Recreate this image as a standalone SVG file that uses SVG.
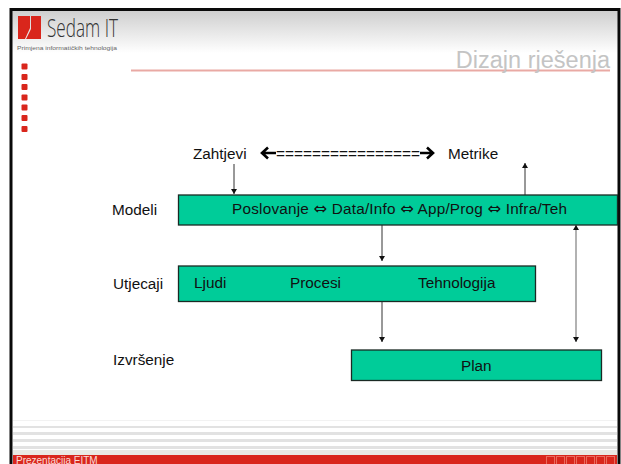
<svg xmlns="http://www.w3.org/2000/svg" width="621" height="464" viewBox="0 0 621 464">
<style>
.t{font-family:"Liberation Sans",Arial,sans-serif;font-size:15.300px;fill:#111}
.d{font-family:"DejaVu Sans",sans-serif;font-size:16px}
.box{fill:#00cc99;stroke:#1a2a24;stroke-width:1.3}
.c{fill:none;stroke:#333;stroke-width:1}
.b{fill:none;stroke:#000;stroke-width:2.600}
.sq{fill:#d9261c}
</style>
<defs>
<linearGradient id="hd" x1="0" y1="0" x2="0" y2="1"><stop offset="0" stop-color="#cfcfcf"/><stop offset="1" stop-color="#ffffff"/></linearGradient>
<marker id="a" markerWidth="6" markerHeight="6" refX="5" refY="3" orient="auto-start-reverse" markerUnits="userSpaceOnUse"><path d="M0 0L5 3L0 6z" fill="#111"/></marker>
</defs>
<rect width="621" height="464" fill="#fff"/>
<g id="frame">
<rect x="12" y="11" width="606" height="453" fill="#fff"/>
<rect x="12" y="11" width="606" height="42" fill="url(#hd)"/>
<path d="M11 464V9.500H619V464" fill="none" stroke="#0a0a0a" stroke-width="3"/>
<g fill="#e2e2e2"><rect x="13" y="420" width="604" height="1" fill="#f2f2f2"/><rect x="13" y="426" width="604" height="2"/><rect x="13" y="432" width="604" height="3"/><rect x="13" y="439" width="604" height="3"/><rect x="13" y="446" width="604" height="3"/><rect x="13" y="450" width="604" height="5" fill="#e9e9e4"/></g>
<rect x="13" y="455" width="604" height="9" fill="#d9261c"/>
<g fill="none" stroke="#ea6a5e" stroke-width="1"><rect x="546.500" y="456.500" width="8" height="8"/><rect x="556.500" y="456.500" width="8" height="8"/><rect x="566.500" y="456.500" width="8" height="8"/><rect x="576.500" y="456.500" width="8" height="8"/><rect x="586.500" y="456.500" width="8" height="8"/><rect x="596.500" y="456.500" width="8" height="8"/><rect x="606.500" y="456.500" width="8" height="8"/></g>
<text x="16" y="463.500" style="font-family:'Liberation Sans',sans-serif;font-size:10px;fill:#fbdcd8">Prezentacija EITM</text>
</g>
<g id="logo">
<path d="M18 16H30V28L25 39H18z" fill="#d9261c"/>
<path d="M31 16H41V39H26L31 29z" fill="#d9261c"/>
<text x="47" y="37" style="font-family:'Open Sans',sans-serif;font-weight:300;font-size:26px;fill:#333" textLength="71" lengthAdjust="spacingAndGlyphs">Sedam IT</text>
<text x="17" y="50" style="font-family:'Liberation Sans',sans-serif;font-size:5.500px;fill:#666" textLength="100" lengthAdjust="spacingAndGlyphs">Primjena informatičkih tehnologija</text>
</g>
<g id="bullets">
<rect class="sq" x="21.500" y="63.500" width="6" height="6" rx="1"/><rect class="sq" x="21.500" y="74" width="6" height="6" rx="1"/><rect class="sq" x="21.500" y="84" width="6" height="6" rx="1"/><rect class="sq" x="21.500" y="94.500" width="6" height="6" rx="1"/><rect class="sq" x="21.500" y="104.500" width="6" height="6" rx="1"/><rect class="sq" x="21.500" y="115" width="6" height="6" rx="1"/><rect class="sq" x="21.500" y="126" width="6" height="6" rx="1"/>
</g>
<g id="title">
<rect x="131" y="69.500" width="479" height="2" fill="#e9a9a4"/>
<text x="610" y="68" text-anchor="end" style="font-family:'Liberation Sans',sans-serif;font-size:23.500px;fill:#c4c4c4">Dizajn rješenja</text>
</g>
<g id="connectors">
<path class="c" d="M234 164V194" marker-end="url(#a)"/>
<path class="c" d="M525 195V163" marker-end="url(#a)"/>
<path class="c" d="M382 225V261" marker-end="url(#a)"/>
<path class="c" d="M382 301V342" marker-end="url(#a)"/>
<path d="M576 225V342" fill="none" stroke="#999" stroke-width="1.500" marker-start="url(#a)" marker-end="url(#a)"/>
<path class="b" d="M262 153H276M268 147.500L262 153L268 158.500"/>
<path class="b" d="M420 153H433M427 147.500L433 153L427 158.500"/>
</g>
<g id="node-zahtjevi"><text class="t" x="193" y="159">Zahtjevi</text></g>
<g id="node-arrow"><text class="t" x="276" y="158.500" textLength="144" lengthAdjust="spacingAndGlyphs">================</text></g>
<g id="node-metrike"><text class="t" x="448" y="159">Metrike</text></g>
<g id="node-modeli"><text class="t" x="112" y="215">Modeli</text>
<rect class="box" x="178.500" y="195" width="439" height="30"/>
<text class="t" x="232" y="214" textLength="335" lengthAdjust="spacing">Poslovanje <tspan class="d">⇔</tspan> Data/Info <tspan class="d">⇔</tspan> App/Prog <tspan class="d">⇔</tspan> Infra/Teh</text></g>
<g id="node-utjecaji"><text class="t" x="113" y="289">Utjecaji</text>
<rect class="box" x="178.500" y="266" width="357" height="35.500"/>
<text class="t" x="194" y="288">Ljudi</text><text class="t" x="290" y="288">Procesi</text><text class="t" x="418" y="288">Tehnologija</text></g>
<g id="node-plan"><text class="t" x="113" y="365">Izvršenje</text>
<rect class="box" x="351.500" y="350" width="250" height="30.500"/>
<text class="t" x="461" y="371">Plan</text></g>
</svg>
